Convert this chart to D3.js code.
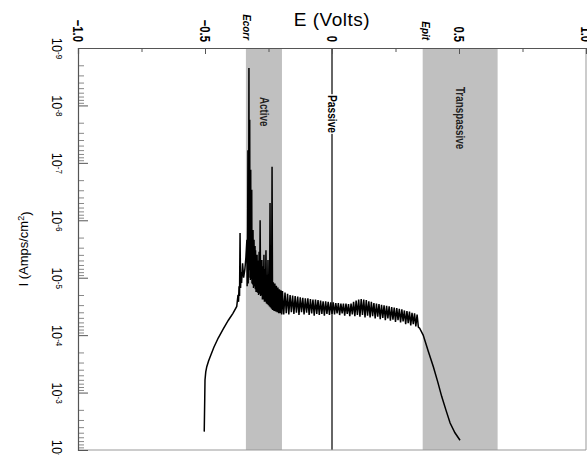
<!DOCTYPE html>
<html>
<head>
<meta charset="utf-8">
<script src="https://cdn.jsdelivr.net/npm/d3@7"></script>
<style>
  html, body { margin: 0; padding: 0; background: #fff; }
  svg { display: block; }
</style>
</head>
<body>
<div id="chart"></div>
<script>
// polarisation curve, drawn rotated: E across the top, log I downwards

const E_MAJOR = [-1.0, -0.5, 0, 0.5, 1.0];
const E_MINOR = [-0.75, -0.25, 0.25, 0.75];
const DECADES = [-9, -8, -7, -6, -5, -4, -3, -2];

const REGIONS = [
  { name: "Active", from: -0.339, to: -0.197, labelLog: -7.89 },
  { name: "Transpassive", from: 0.357, to: 0.652, labelLog: -7.78 },
];
const PASSIVE_E = 0;
const PASSIVE_LABEL_LOG = -7.85;
const MARKERS = [
  { label: "Ecorr", e: -0.337 },
  { label: "Epit", e: 0.371 },
];

// [E (V), log10 I]
const CATHODIC = [
  [-0.503, -2.32], [-0.501, -2.90], [-0.500, -3.22], [-0.497, -3.36], [-0.493, -3.45],
  [-0.486, -3.55], [-0.480, -3.62], [-0.465, -3.79], [-0.448, -3.95], [-0.428, -4.11],
  [-0.408, -4.26], [-0.390, -4.38], [-0.375, -4.50], [-0.370, -4.70], [-0.368, -4.58],
  [-0.366, -4.85], [-0.364, -4.68], [-0.362, -5.78], [-0.360, -4.82], [-0.358, -5.10],
  [-0.356, -4.91], [-0.352, -5.25], [-0.348, -5.00], [-0.343, -5.15], [-0.339, -5.35],
];
const ACTIVE = [
  [-0.335, -5.66], [-0.334, -4.85], [-0.332, -5.90], [-0.331, -7.22], [-0.330, -4.90],
  [-0.328, -6.10], [-0.327, -8.65], [-0.326, -5.13], [-0.325, -6.60], [-0.324, -7.75],
  [-0.323, -5.00], [-0.322, -6.20], [-0.321, -4.96], [-0.320, -6.88], [-0.319, -5.05],
  [-0.317, -5.90], [-0.316, -6.53], [-0.315, -4.90], [-0.313, -5.70], [-0.312, -4.88],
  [-0.311, -5.83], [-0.309, -4.82], [-0.308, -5.50], [-0.307, -5.66], [-0.305, -4.85],
  [-0.303, -5.55], [-0.302, -4.80], [-0.301, -5.48], [-0.299, -4.75], [-0.297, -5.35],
  [-0.295, -5.40], [-0.293, -4.74], [-0.291, -5.30], [-0.289, -4.70], [-0.287, -5.45],
  [-0.285, -4.72], [-0.283, -6.00], [-0.281, -4.68], [-0.279, -5.25], [-0.277, -4.70],
  [-0.276, -5.31], [-0.274, -4.62], [-0.272, -5.20], [-0.270, -4.62], [-0.268, -5.40],
  [-0.266, -4.58], [-0.264, -5.15], [-0.262, -4.58], [-0.260, -5.48], [-0.258, -4.55],
  [-0.256, -5.05], [-0.254, -4.54], [-0.252, -5.31], [-0.250, -4.52], [-0.248, -4.98],
  [-0.246, -4.50], [-0.244, -6.30], [-0.242, -4.48], [-0.240, -4.95], [-0.238, -4.46],
  [-0.236, -6.93], [-0.234, -4.44], [-0.231, -4.92], [-0.228, -4.42], [-0.225, -4.90],
  [-0.222, -4.41], [-0.219, -4.86], [-0.216, -4.40], [-0.213, -4.83], [-0.210, -4.38],
  [-0.207, -4.80], [-0.204, -4.38], [-0.201, -4.78], [-0.198, -4.36],
];
const PASSIVE = [
  [-0.195, -4.77], [-0.190, -4.36], [-0.185, -4.74], [-0.180, -4.38], [-0.175, -4.72],
  [-0.170, -4.36], [-0.165, -4.70], [-0.160, -4.40], [-0.155, -4.69], [-0.150, -4.37],
  [-0.145, -4.68], [-0.140, -4.39], [-0.135, -4.67], [-0.130, -4.35], [-0.125, -4.66],
  [-0.120, -4.40], [-0.115, -4.65], [-0.110, -4.36], [-0.105, -4.64], [-0.100, -4.39],
  [-0.095, -4.64], [-0.090, -4.35], [-0.085, -4.63], [-0.080, -4.38], [-0.075, -4.62],
  [-0.070, -4.34], [-0.065, -4.62], [-0.060, -4.37], [-0.055, -4.61], [-0.050, -4.35],
  [-0.045, -4.60], [-0.040, -4.37], [-0.035, -4.59], [-0.030, -4.34], [-0.025, -4.59],
  [-0.020, -4.37], [-0.015, -4.58], [-0.010, -4.35], [-0.005, -4.57], [0.000, -4.37],
  [0.005, -4.57], [0.010, -4.36], [0.015, -4.56], [0.020, -4.38], [0.025, -4.56],
  [0.030, -4.35], [0.035, -4.55], [0.040, -4.38], [0.045, -4.55], [0.050, -4.34],
  [0.055, -4.55], [0.060, -4.37], [0.065, -4.54], [0.070, -4.33], [0.075, -4.55],
  [0.080, -4.36], [0.085, -4.58], [0.090, -4.33], [0.095, -4.60], [0.100, -4.35],
  [0.105, -4.62], [0.110, -4.32], [0.115, -4.63], [0.120, -4.35], [0.125, -4.62],
  [0.130, -4.31], [0.135, -4.61], [0.140, -4.34], [0.145, -4.59], [0.150, -4.31],
  [0.155, -4.58], [0.160, -4.33], [0.165, -4.56], [0.170, -4.29], [0.175, -4.55],
  [0.180, -4.32], [0.185, -4.54], [0.190, -4.28], [0.195, -4.53], [0.200, -4.30],
  [0.205, -4.52], [0.210, -4.26], [0.215, -4.51], [0.220, -4.29], [0.225, -4.50],
  [0.230, -4.25], [0.235, -4.49], [0.240, -4.27], [0.245, -4.48], [0.250, -4.23],
  [0.255, -4.47], [0.260, -4.26], [0.265, -4.46], [0.270, -4.22], [0.275, -4.45],
  [0.280, -4.24], [0.285, -4.43], [0.290, -4.19], [0.295, -4.42], [0.300, -4.21],
  [0.305, -4.41], [0.310, -4.17], [0.315, -4.39], [0.320, -4.19], [0.325, -4.38],
  [0.330, -4.15], [0.335, -4.36], [0.340, -4.14], [0.345, -4.12],
];
const TRANSPASSIVE = [
  [0.359, -4.00], [0.379, -3.72], [0.399, -3.45], [0.416, -3.19], [0.432, -2.93],
  [0.449, -2.69], [0.465, -2.47], [0.484, -2.30], [0.504, -2.17],
];

const W = 587, H = 455;
const X0 = 78, X1 = 586, Y0 = 48, Y1 = 450;
const SANS = "'Liberation Sans', Arial, sans-serif";

const x = d3.scaleLinear().domain([-1, 1]).range([X0, X1]);
const y = d3.scaleLog().domain([1e-9, 1e-2]).range([Y0, Y1]);
const yl10 = v => y(Math.pow(10, v));

const svg = d3.select("#chart").append("svg").attr("width", W).attr("height", H);
svg.append("rect").attr("width", W).attr("height", H).attr("fill", "#fff");

// shaded bands
REGIONS.forEach(r => {
  svg.append("rect")
    .attr("x", x(r.from)).attr("width", x(r.to) - x(r.from))
    .attr("y", Y0).attr("height", Y1 - Y0)
    .attr("fill", "#c0c0c0");
});

// passive line
svg.append("line")
  .attr("x1", x(PASSIVE_E)).attr("x2", x(PASSIVE_E))
  .attr("y1", Y0).attr("y2", Y1)
  .attr("stroke", "#333").attr("stroke-width", 1.5);

// curve
const pts = [...CATHODIC, ...ACTIVE, ...PASSIVE, ...TRANSPASSIVE];
const line = d3.line().x(d => x(d[0])).y(d => yl10(d[1]));
svg.append("path")
  .attr("d", line(pts))
  .attr("fill", "none").attr("stroke", "#000")
  .attr("stroke-width", 1.5).attr("stroke-linejoin", "miter");

// frame lines
svg.append("line").attr("x1", X0).attr("x2", X1).attr("y1", Y1).attr("y2", Y1)
  .attr("stroke", "#999").attr("stroke-width", 1);
svg.append("line").attr("x1", X1).attr("x2", X1).attr("y1", Y0).attr("y2", Y1)
  .attr("stroke", "#999").attr("stroke-width", 1);

// top axis (E)
const gx = svg.append("g").attr("transform", `translate(0,${Y0})`)
  .call(d3.axisTop(x).tickValues(E_MAJOR).tickSize(-6));
gx.select(".domain").attr("stroke", "#555").attr("stroke-width", 1.2);
gx.selectAll(".tick line").attr("stroke", "#555");
gx.selectAll(".tick text")
  .attr("transform", "rotate(90) scale(0.75,1)")
  .attr("x", -8).attr("y", 0).attr("dy", "0.35em")
  .attr("text-anchor", "end")
  .attr("fill", "#000")
  .style("font", `bold 15px ${SANS}`)
  .text(d => d === 0 ? "0" : d3.format(".1f")(d));

const gxm = svg.append("g").attr("transform", `translate(0,${Y0})`)
  .call(d3.axisTop(x).tickValues(E_MINOR).tickSize(-4).tickFormat(""));
gxm.select(".domain").remove();
gxm.selectAll(".tick line").attr("stroke", "#555");

// left axis (I)
const yMinor = [];
DECADES.slice(0, -1).forEach(p => {
  [2, 3, 4, 5, 6, 7, 8, 9].forEach(k => yMinor.push(k * Math.pow(10, p)));
});
const gym = svg.append("g").attr("transform", `translate(${X0},0)`)
  .call(d3.axisLeft(y).tickValues(yMinor).tickSize(-6).tickFormat(""));
gym.select(".domain").remove();
gym.selectAll(".tick line").attr("stroke", "#888");

const gy = svg.append("g").attr("transform", `translate(${X0},0)`)
  .call(d3.axisLeft(y).tickValues(DECADES.map(p => Math.pow(10, p))).tickSize(-10).tickFormat(""));
gy.select(".domain").attr("stroke", "#555").attr("stroke-width", 1.2);
gy.selectAll(".tick line").attr("stroke", "#555");
gy.selectAll(".tick").each(function (d, i) {
  const t = d3.select(this).append("text")
    .attr("transform", "translate(-21,0) rotate(90) scale(0.85,1)")
    .attr("text-anchor", "middle").attr("dy", "0.35em")
    .attr("fill", "#000")
    .style("font", `15px ${SANS}`);
  t.append("tspan").text("10");
  t.append("tspan").attr("dy", "-0.5em").style("font-size", "9.5px").text("-" + Math.abs(DECADES[i]));
});

// titles
svg.append("text")
  .attr("x", x(0)).attr("y", 26)
  .attr("text-anchor", "middle")
  .style("font", `19px ${SANS}`).style("letter-spacing", "0.5px")
  .text("E (Volts)");

const yl = svg.append("text")
  .attr("transform", `translate(28,${(Y0 + Y1) / 2}) rotate(-90)`)
  .attr("text-anchor", "middle")
  .style("font", `13px ${SANS}`);
yl.append("tspan").text("I (Amps/cm");
yl.append("tspan").attr("dy", "-0.45em").style("font-size", "9px").text("2");
yl.append("tspan").attr("dy", "0.45em").text(")");

// marker labels above the axis
MARKERS.forEach(m => {
  svg.append("text")
    .attr("transform", `translate(${x(m.e)},${Y0 - 8}) rotate(90) scale(0.9,1)`)
    .attr("text-anchor", "end").attr("dy", "0.35em")
    .style("font", `italic bold 11px ${SANS}`)
    .text(m.label);
});

// region labels
REGIONS.forEach(r => {
  svg.append("text")
    .attr("transform", `translate(${x((r.from + r.to) / 2)},${yl10(r.labelLog)}) rotate(90) scale(0.82,1)`)
    .attr("text-anchor", "middle").attr("dy", "0.35em")
    .style("font", `bold 12px ${SANS}`).attr("fill", "#222")
    .text(r.name);
});

const pg = svg.append("g")
  .attr("transform", `translate(${x(PASSIVE_E)},${yl10(PASSIVE_LABEL_LOG)}) rotate(90) scale(0.85,1)`);
const ptxt = pg.append("text")
  .attr("text-anchor", "middle").attr("dy", "0.35em")
  .style("font", `bold 12px ${SANS}`)
  .text("Passive");
const bb = ptxt.node().getBBox();
pg.insert("rect", "text")
  .attr("x", bb.x - 1).attr("y", bb.y)
  .attr("width", bb.width + 2).attr("height", bb.height)
  .attr("fill", "#fff");
</script>
</body>
</html>
